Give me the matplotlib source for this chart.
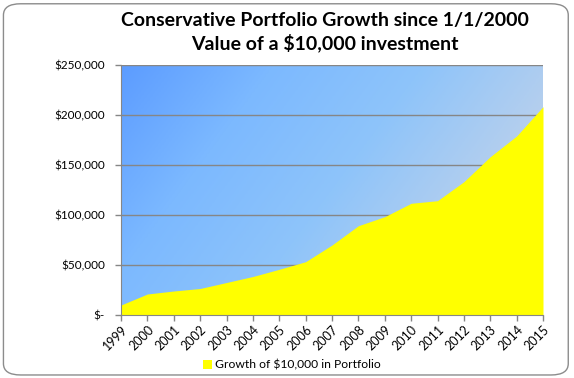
import numpy as np
import matplotlib
matplotlib.use("Agg")
import matplotlib.pyplot as plt
from matplotlib.colors import LinearSegmentedColormap
from matplotlib.patches import FancyBboxPatch

# Data
years = [1999, 2000, 2001, 2002, 2003, 2004, 2005, 2006, 2007,
         2008, 2009, 2010, 2011, 2012, 2013, 2014, 2015]
values = [10000, 21000, 24000, 26500, 32500, 38500, 45700, 53300, 70000,
          89300, 98300, 111700, 114300, 133300, 158300, 179000, 208300]
y_ticks = [0, 50000, 100000, 150000, 200000, 250000]
y_labels = ["$-", "$50,000", "$100,000", "$150,000", "$200,000", "$250,000"]
title = "Conservative Portfolio Growth since 1/1/2000\nValue of a $10,000 investment"
series_name = "Growth of $10,000 in Portfolio"

plt.rcParams['font.family'] = ['Lato', 'DejaVu Sans']

fig = plt.figure(figsize=(5.74, 3.78), dpi=100)
fig.patch.set_facecolor("white")

# rounded chart border
border = FancyBboxPatch((0.006, 0.008), 0.984, 0.982,
                        boxstyle="round,pad=0,rounding_size=0.03",
                        transform=fig.transFigure, facecolor="none",
                        edgecolor="#8c8c8c", linewidth=1.0, zorder=-1)
fig.patches.append(border)

ax = fig.add_axes([121 / 574, 1 - 315 / 378, 422 / 574, 250 / 378])

# diagonal gradient background
xx, yy = np.meshgrid(np.linspace(0, 1, 300), np.linspace(1, 0, 200))
t = np.clip(0.8 * xx + 0.35 * (1 - yy), 0, 1.15) / 1.15
grad = LinearSegmentedColormap.from_list(
    "bg", ["#5c9cff", "#7cb9ff", "#8ec4fa", "#b5cfee", "#c8d8ea"])
ax.imshow(t, cmap=grad, extent=(years[0], years[-1], 0, 250000),
          aspect="auto", zorder=0, interpolation="bilinear")

ax.fill_between(years, values, 0, color="#ffff00", linewidth=0, zorder=2,
                label=series_name)

ax.set_xlim(years[0], years[-1])
ax.set_ylim(0, 250000)
ax.set_yticks(y_ticks)
ax.set_yticklabels(y_labels)
ax.set_xticks(years)
ax.set_xticklabels([str(y) for y in years], rotation=45, ha="right",
                   rotation_mode="anchor")
ax.yaxis.grid(True, color="#868686", linewidth=1.0)
for g in ax.get_ygridlines():
    g.set_zorder(1)

for side in ["top", "right"]:
    ax.spines[side].set_visible(False)
for side in ["left", "bottom"]:
    ax.spines[side].set_color("#868686")
    ax.spines[side].set_zorder(3)
ax.tick_params(axis="both", colors="#868686", labelcolor="black",
               length=4, width=1)
ax.tick_params(axis="y", labelsize=8.5, pad=7.5)
ax.tick_params(axis="x", labelsize=9, pad=2)

fig.text(325 / 574, 0.915, title, ha="center", va="center", fontsize=14,
         fontweight="bold", linespacing=1.3)

fig.legend(loc="center", bbox_to_anchor=(292 / 574, 1 - 365 / 378), frameon=False,
           fontsize=8.7, handlelength=0.75, handleheight=0.75, handletextpad=0.3)

fig.savefig("out.png", dpi=100)
